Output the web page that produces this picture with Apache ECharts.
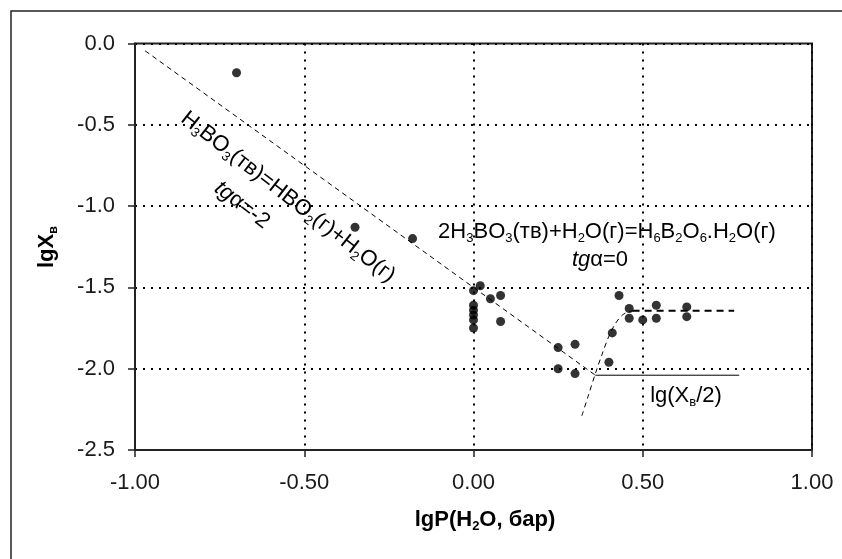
<!DOCTYPE html>
<html><head><meta charset="utf-8">
<script src="https://cdn.jsdelivr.net/npm/echarts@6/dist/echarts.min.js"></script>
<style>html,body{margin:0;padding:0;background:#fff}#c{width:842px;height:559px}</style>
</head><body><div id="c"></div>
<script>
// ---- data ----
const xTicks = [-1.00, -0.50, 0.00, 0.50, 1.00];
const yTicks = [0.0, -0.5, -1.0, -1.5, -2.0, -2.5];
const pointX = [-0.70, -0.35, -0.18, 0, 0, 0, 0, 0, 0, 0.02, 0.05, 0.08, 0.08, 0.25, 0.30, 0.25, 0.30, 0.40, 0.41, 0.43, 0.46, 0.46, 0.50, 0.54, 0.54, 0.63, 0.63];
const pointY = [-0.18, -1.13, -1.20, -1.52, -1.61, -1.64, -1.67, -1.70, -1.75, -1.49, -1.57, -1.55, -1.71, -1.87, -1.85, -2.00, -2.03, -1.96, -1.78, -1.55, -1.63, -1.69, -1.70, -1.61, -1.69, -1.62, -1.68];
const slopeLineX = [-0.97, 0.36];
const slopeLineY = [-0.045, -2.04];
const baseLineX = [0.36, 0.785];
const baseLineY = [-2.04, -2.04];
const curveX = [0.32, 0.34, 0.36, 0.38, 0.40, 0.42, 0.44, 0.46, 0.48];
const curveY = [-2.29, -2.16, -2.03, -1.91, -1.80, -1.72, -1.67, -1.648, -1.643];
const plateauX = [0.47, 0.77];
const plateauY = [-1.643, -1.643];
const xName = 'lgP(H_2O, бар)';
const yName = 'lgX_в';
const reaction1 = 'H_3BO_3(тв)=HBO_2(г)+H_2O(г)';
const slope1 = '=-2';
const reaction2 = '2H_3BO_3(тв)+H_2O(г)=H_6B_2O_6.H_2O(г)';
const slope2 = '=0';
const halfLabel = 'lg(X_в/2)';

// ---- helpers ----
const zip = (a, b) => a.map((v, i) => [v, b[i]]);
const FF = '"Liberation Sans", Arial, sans-serif';
const TXT = '#1a1a1a';
function toRich(s, base, sub) {
  return s.split(/(_.)/).filter(p => p).map(p => p[0] === '_' ? '{' + sub + '|' + p.slice(1) + '}' : '{' + base + '|' + p + '}').join('');
}
const richStyles = {
  n: { fontSize: 22, fontFamily: FF, color: TXT, lineHeight: 26 },
  s: { fontSize: 13, fontFamily: FF, color: TXT, lineHeight: 13, verticalAlign: 'bottom' },
  i: { fontSize: 22, fontFamily: FF, color: TXT, lineHeight: 26, fontStyle: 'italic' },
  b: { fontSize: 22, fontFamily: FF, color: TXT, lineHeight: 26, fontWeight: 'bold' },
  bs: { fontSize: 13, fontFamily: FF, color: TXT, lineHeight: 13, fontWeight: 'bold', verticalAlign: 'bottom' }
};
function label(text, x, y, rot) {
  return { type: 'text', x: x, y: y, rotation: rot || 0, z: 50,
    style: { text: text, rich: richStyles, align: 'center', verticalAlign: 'middle' } };
}

const chart = echarts.init(document.getElementById('c'), null, { renderer: 'canvas' });
const dotted = { color: '#000', type: [2, 6], width: 2 };
const axisCommon = {
  type: 'value', interval: 0.5,
  axisLine: { show: true, onZero: false, lineStyle: { color: '#222', width: 2 } },
  axisTick: { show: true, inside: false, length: 7, lineStyle: { color: '#222', width: 1.5 } },
  splitLine: { show: true, lineStyle: dotted }
};
const ang = -37.8 * Math.PI / 180;
chart.setOption({
  animation: false,
  backgroundColor: '#fff',
  grid: { left: 135, right: 30, top: 43.5, bottom: 109, show: true, borderColor: '#222', borderWidth: 2, backgroundColor: 'transparent' },
  xAxis: Object.assign({}, axisCommon, {
    min: xTicks[0], max: xTicks[xTicks.length - 1],
    axisLabel: { margin: 22, fontSize: 22, fontFamily: FF, color: TXT, formatter: v => v.toFixed(2) }
  }),
  yAxis: Object.assign({}, axisCommon, {
    min: yTicks[yTicks.length - 1], max: yTicks[0],
    axisLabel: { margin: 20, fontSize: 22, fontFamily: FF, color: TXT, formatter: v => v.toFixed(1) }
  }),
  series: [
    { type: 'line', data: zip(slopeLineX, slopeLineY), symbol: 'none', lineStyle: { color: '#000', width: 1, type: [5, 4] }, z: 3 },
    { type: 'line', data: zip(baseLineX, baseLineY), symbol: 'none', lineStyle: { color: '#000', width: 1, type: 'solid' }, z: 3 },
    { type: 'line', data: zip(curveX, curveY), symbol: 'none', smooth: 0.3, lineStyle: { color: '#000', width: 1, type: [5, 4] }, z: 3 },
    { type: 'line', data: zip(plateauX, plateauY), symbol: 'none', lineStyle: { color: '#000', width: 2, type: [7, 5] }, z: 3 },
    { type: 'scatter', data: zip(pointX, pointY), symbol: 'circle', symbolSize: 9, itemStyle: { color: '#000' }, z: 5 }
  ],
  graphic: [
    { type: 'rect', shape: { x: 11, y: 11, width: 900, height: 600 }, style: { fill: 'none', stroke: '#222', lineWidth: 1.5 }, silent: true },
    label(toRich(xName, 'b', 'bs'), 485, 520, 0),
    label(toRich(yName, 'b', 'bs'), 47, 247, Math.PI / 2),
    label(toRich(reaction1, 'n', 's'), 288, 197, ang),
    label('{i|tg}{n|α' + slope1 + '}', 242, 205, ang),
    label(toRich(reaction2, 'n', 's'), 607, 232, 0),
    label('{i|tg}{n|α' + slope2 + '}', 600, 260, 0),
    label(toRich(halfLabel, 'n', 's'), 686, 396, 0)
  ]
});
</script>
</body></html>
